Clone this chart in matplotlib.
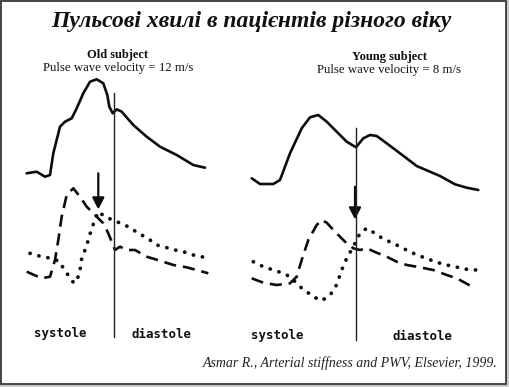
import matplotlib
matplotlib.use("Agg")
import matplotlib.pyplot as plt
from matplotlib.patches import Rectangle, FancyArrowPatch

W, H = 510, 387

# ---- data (time, pressure), in picture units ----
title = "Пульсові хвилі в пацієнтів різного віку"
citation = "Asmar R., Arterial stiffness and PWV, Elsevier, 1999."
panel_names = ["Old subject", "Young subject"]
panel_pwv = ["Pulse wave velocity = 12 m/s", "Pulse wave velocity = 8 m/s"]
phase_labels = ["systole", "diastole"]

old_central_t = [26.7, 36.7, 45, 50, 53.3, 60, 65, 71.7, 76.7, 83.3, 90, 96.7, 103.3,
                 107.3, 109.3, 112.7, 116.7, 121.7, 133.3, 146.7, 160, 176.7, 193.3, 205]
old_central_p = [173.3, 171.7, 176.7, 175, 153.3, 126.7, 121.7, 118.3, 108.3, 93.3, 81.7,
                 79.3, 83.3, 95, 106.7, 113.3, 109.3, 111.7, 125, 136.7, 146.7, 155, 165, 167.7]

old_forward_t = [26.7, 41.7, 50, 55, 58.3, 61.7, 66.7, 73.3, 80, 86.7, 95, 103.3, 108.3,
                 111.7, 115, 120, 126.7, 135, 146.7, 160, 173.3, 186.7, 208.3]
old_forward_p = [271.7, 278.3, 276.7, 260, 240, 216.7, 195, 188.3, 196.7, 206.7, 215,
                 223.3, 233.3, 241.7, 250, 246.7, 250, 250, 256.7, 260.7, 265, 267.3, 273.3]

old_reflected_t = [30, 41.7, 51.7, 60, 63.3, 69.3, 74, 79.3, 81.7, 85, 88.3, 91.7, 98.3,
                   105, 116.7, 125, 133.3, 141.7, 150, 156.7, 163.3, 175, 183.3, 193.3,
                   201.7, 210]
old_reflected_p = [253.3, 256.7, 258.3, 261.7, 268.3, 276.7, 283.3, 275, 258.3, 250, 240,
                   228.3, 211.7, 216.7, 221.7, 225, 230, 235, 240, 245, 246.7, 250, 251.7,
                   255, 256.7, 259.3]

young_central_t = [251.7, 260, 273.3, 280, 290, 301.7, 310, 318.3, 326.7, 336.7, 346.7,
                   356, 363.3, 370, 376.7, 386.7, 400, 416.7, 440, 455, 466.7, 478.3]
young_central_p = [178.3, 184, 184, 180, 153.3, 128.3, 117.3, 115, 121.7, 131.7, 141.7,
                   147.3, 138.3, 135, 136, 143.3, 153.3, 166, 176, 184.3, 187.7, 190]

young_forward_t = [251.7, 263.3, 276.7, 290, 296.7, 301.7, 308.3, 316.7, 321.7, 326.7,
                   335, 345, 353.3, 360, 366.7, 376.7, 386.7, 396.7, 406.7, 416.7, 433.3,
                   446.7, 456.7, 473.3]
young_forward_p = [278.3, 282.7, 285, 283.3, 276.7, 260, 240, 225, 220, 222.7, 231.7,
                   241.7, 248.3, 250, 248.3, 252.7, 256.7, 261.7, 265, 266.7, 270, 275,
                   278.3, 287.3]

young_reflected_t = [253.3, 263.3, 273.3, 283.3, 290, 300, 306.7, 313.3, 321.7, 330, 335,
                     338.3, 341.7, 346.7, 353.3, 360, 366.7, 375, 383.3, 393.3, 405, 413.3,
                     423.3, 433.3, 443.3, 455, 466.7, 476.7]
young_reflected_p = [261.7, 266.7, 270, 273.3, 276.7, 286.7, 291.7, 296.7, 300.7, 295,
                     288.3, 280, 270, 258.3, 246.7, 233.3, 228.3, 233.3, 239, 243.3, 249.3,
                     253.3, 257.3, 261, 264.3, 266.7, 269.3, 270]

# end of systole (dicrotic notch) and reflected-wave arrival
valve_close_t = [114.3, 356]
valve_line_top = [93.3, 128.3]
valve_line_bottom = [336.7, 340]
arrow_t = [98.3, 355]
arrow_from = [173.3, 186.7]
arrow_to = [209.5, 219.5]

# ---- drawing ----
fig = plt.figure(figsize=(W / 100, H / 100), dpi=100)
fig.patch.set_facecolor("#c8c8c8")
ax = fig.add_axes([0, 0, 1, 1])
ax.set_xlim(0, W)
ax.set_ylim(H, 0)
ax.axis("off")

ax.add_patch(Rectangle((0.8, 0.8), 505, 383, facecolor="white", edgecolor="#3a3a3a",
                       linewidth=1.3, zorder=0))

serif = ["Liberation Serif", "DejaVu Serif"]
mono = ["DejaVu Sans Mono", "Liberation Mono"]

ax.text(251, 21.5, title, ha="center", va="center", fontsize=17, fontweight="bold",
        fontstyle="italic", family=serif, color="#111111")

name_pos = [(118, 55), (390, 57)]
pwv_pos = [(118, 67.5), (389, 70)]
for i in range(2):
    ax.text(*name_pos[i], panel_names[i], ha="center", va="center", fontsize=9,
            fontweight="bold", family=serif, color="#111111")
    ax.text(*pwv_pos[i], panel_pwv[i], ha="center", va="center", fontsize=9.2,
            family=serif, color="#111111")

lc = "#0d0d0d"
for t, p in [(old_central_t, old_central_p), (young_central_t, young_central_p)]:
    ax.plot(t, p, color=lc, lw=1.9, solid_capstyle="round", solid_joinstyle="round")
for t, p in [(old_forward_t, old_forward_p), (young_forward_t, young_forward_p)]:
    ax.plot(t, p, color=lc, lw=1.9, linestyle=(0, (4.6, 2.6)), dash_capstyle="butt")
for t, p in [(old_reflected_t, old_reflected_p), (young_reflected_t, young_reflected_p)]:
    ax.plot(t, p, color=lc, lw=2.7, linestyle=(0, (0.05, 2.4)), dash_capstyle="round")

for i in range(2):
    ax.plot([valve_close_t[i], valve_close_t[i]], [valve_line_top[i], valve_line_bottom[i]],
            color="#222222", lw=1.0)
    ax.add_patch(FancyArrowPatch((arrow_t[i], arrow_from[i]), (arrow_t[i], arrow_to[i]),
                                 arrowstyle="-|>,head_length=7,head_width=3.6",
                                 color=lc, lw=1.6, shrinkA=0, shrinkB=0))

label_pos = [(60, 333), (162, 334), (277, 335), (423, 336)]
for j, (x, y) in enumerate(label_pos):
    ax.text(x, y, phase_labels[j % 2], ha="center", va="center", fontsize=9,
            fontweight="bold", family=mono, color="#111111")

ax.text(498, 363, citation, ha="right", va="center", fontsize=10, fontstyle="italic",
        family=serif, color="#222222")

fig.savefig("out.png", dpi=100, facecolor=fig.get_facecolor())
